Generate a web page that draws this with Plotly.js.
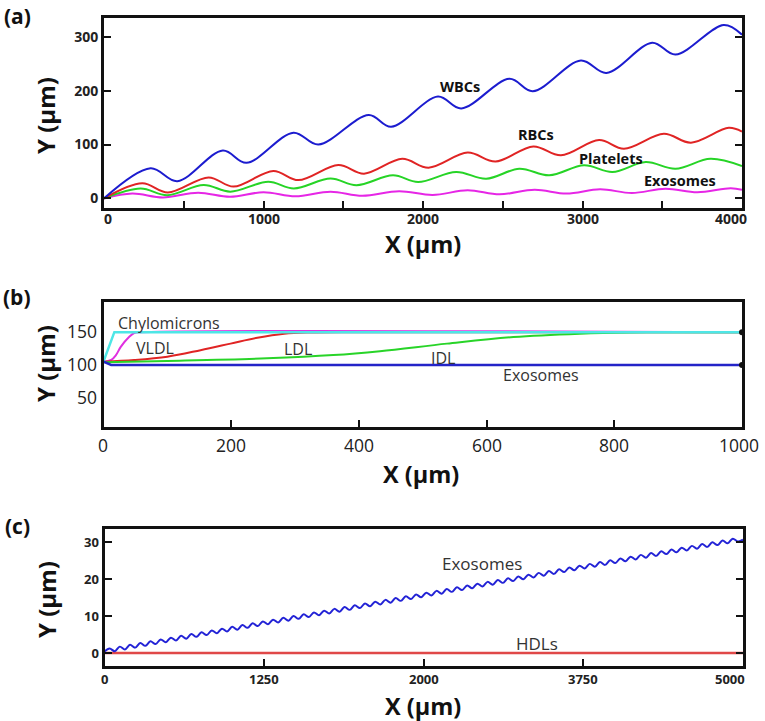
<!DOCTYPE html>
<html><head><meta charset="utf-8">
<script src="https://cdn.plot.ly/plotly-3.0.1.min.js"></script>
<style>html,body{margin:0;padding:0;background:#fff;}#chart{width:765px;height:721px;}</style>
</head><body><div id="chart"></div>
<script>
// ---------- Panel (a) ----------
const wbcX = [0, 292, 460, 745, 893, 1188, 1344, 1660, 1800, 2094, 2240, 2542, 2688, 2990, 3150, 3437, 3583, 3886, 4000];
const wbcY = [0, 56, 32, 89, 66, 122, 100, 155, 133, 189, 167, 222, 199, 256, 233, 289, 267, 322, 304];
const rbcX = [0, 240, 400, 656, 812, 1062, 1219, 1469, 1630, 1870, 2035, 2280, 2455, 2692, 2865, 3104, 3260, 3510, 3680, 3917, 4000];
const rbcY = [0, 28, 11, 39, 22, 51, 34, 62, 46, 73.5, 57, 85, 68.5, 96.5, 80, 108.5, 92.3, 120, 103.5, 131, 124];
const pltX = [0, 229, 396, 625, 792, 1030, 1190, 1420, 1583, 1812, 1969, 2208, 2396, 2604, 2792, 3010, 3188, 3396, 3583, 3802, 4000];
const pltY = [0, 18.5, 6, 25, 12.5, 31, 18.5, 37, 24.5, 43, 30.5, 49, 36.6, 55, 42.8, 61.5, 49, 67.5, 55, 73.4, 60];
const exoAX = [0, 177, 370, 590, 790, 1000, 1200, 1420, 1620, 1850, 2060, 2280, 2480, 2700, 2900, 3110, 3310, 3520, 3720, 3930, 4000];
const exoAY = [0, 9, 1.8, 10.5, 3, 11.5, 4, 12.5, 5, 13.5, 6.5, 15, 7.5, 16, 9, 17, 10, 18, 11.5, 19, 16];
const aXTicks = [0, 500, 1000, 1500, 2000, 2500, 3000, 3500, 4000];
const aXLabelVals = [0, 1000, 2000, 3000, 4000];
const aXLabels = ['0', '1000', '2000', '3000', '4000'];
const aYTicks = [0, 100, 200, 300];

// ---------- Panel (b) ----------
const chyloX = [0, 17, 1000];
const chyloY = [105, 150, 150];
const vldlX = [0, 12, 19.5, 27, 40, 48, 60, 1000];
const vldlY = [105, 107.5, 115, 127.5, 142.5, 148.5, 150, 150];
const ldlX = [0, 48, 100, 152, 199, 241, 283, 324, 400, 1000];
const ldlY = [105, 107.5, 112.5, 122.5, 132.5, 141.5, 147.6, 149.5, 150, 150];
const idlX = [0, 100, 256, 360, 433, 538, 642, 746, 824, 900, 1000];
const idlY = [104, 106, 110, 115, 121, 132.5, 142.5, 147.6, 149.5, 150, 150];
const exoBX = [0, 12, 1000];
const exoBY = [105, 100, 100];
const endX = [1000, 1000];
const endY = [150, 100];
const bXTicks = [200, 400, 600, 800];
const bXLabelVals = [0, 200, 400, 600, 800, 1000];
const bXLabels = ['0', '200', '400', '600', '800', '1000'];
const bYTicks = [50, 100, 150];

// ---------- Panel (c) ----------
const exoCX = [0,40,80,120,160,200,240,280,320,360,400,440,480,520,560,600,640,680,720,760,800,840,880,920,960,1000,1040,1080,1120,1160,1200,1240,1280,1320,1360,1400,1440,1480,1520,1560,1600,1640,1680,1720,1760,1800,1840,1880,1920,1960,2000,2040,2080,2120,2160,2200,2240,2280,2320,2360,2400,2440,2480,2520,2560,2600,2640,2680,2720,2760,2800,2840,2880,2920,2960,3000,3040,3080,3120,3160,3200,3240,3280,3320,3360,3400,3440,3480,3520,3560,3600,3640,3680,3720,3760,3800,3840,3880,3920,3960,4000,4040,4080,4120,4160,4200,4240,4280,4320,4360,4400,4440,4480,4520,4560,4600,4640,4680,4720,4760,4800,4840,4880,4920,4960,5000];
const exoCY = [0.4,1.24,0.48,1.73,0.97,2.21,1.46,2.70,1.94,3.18,2.43,3.67,2.91,4.16,3.40,4.64,3.89,5.13,4.37,5.61,4.86,6.10,5.34,6.59,5.83,7.07,6.32,7.56,6.80,8.04,7.29,8.53,7.77,9.02,8.26,9.50,8.75,9.99,9.23,10.47,9.72,10.96,10.20,11.45,10.69,11.93,11.18,12.42,11.66,12.90,12.15,13.39,12.63,13.88,13.12,14.36,13.61,14.85,14.09,15.33,14.58,15.82,15.06,16.31,15.55,16.79,16.04,17.28,16.52,17.76,17.01,18.25,17.49,18.74,17.98,19.22,18.47,19.71,18.95,20.19,19.44,20.68,19.92,21.17,20.41,21.65,20.90,22.14,21.38,22.62,21.87,23.11,22.35,23.60,22.84,24.08,23.33,24.57,23.81,25.05,24.30,25.54,24.78,26.03,25.27,26.51,25.76,27.00,26.24,27.48,26.73,27.97,27.21,28.46,27.70,28.94,28.19,29.43,28.67,29.91,29.16,30.40,29.64,30.89,30.13,30.6];
const hdlX = [0, 5000];
const hdlY = [0, 0];
const cXTicks = [1250, 2500, 3750];
const cXLabelVals = [0, 1250, 2500, 3750, 5000];
const cXLabels = ['0', '1250', '2000', '3750', '5000'];
const cYTicks = [0, 10, 20, 30];

// ---------- helpers (layout only) ----------
const W = 765, H = 721;
const px = v => v / W;
const py = v => 1 - v / H;
const FONT = 'Open Sans';

function line(x, y, color, width, xa, ya, shape) {
  return {x: x, y: y, mode: 'lines', type: 'scatter', xaxis: xa, yaxis: ya,
          line: {color: color, width: width, shape: shape || 'spline', smoothing: 1},
          hoverinfo: 'skip', showlegend: false};
}

const traces = [
  line(exoAX, exoAY, '#e626e6', 2, 'x', 'y'),
  line(pltX, pltY, '#26d426', 2, 'x', 'y'),
  line(rbcX, rbcY, '#e02424', 2, 'x', 'y'),
  line(wbcX, wbcY, '#1c1ccf', 2, 'x', 'y'),

  line(vldlX, vldlY, '#e030e0', 2, 'x2', 'y2'),
  line(ldlX, ldlY, '#e02424', 2, 'x2', 'y2'),
  line(idlX, idlY, '#28d428', 2, 'x2', 'y2'),
  line(chyloX, chyloY, '#4ee6e6', 2.5, 'x2', 'y2', 'linear'),
  line(exoBX, exoBY, '#2424c8', 2.5, 'x2', 'y2', 'linear'),
  {x: endX, y: endY, mode: 'markers', type: 'scatter', xaxis: 'x2', yaxis: 'y2',
   marker: {color: '#111', size: 6}, cliponaxis: false, hoverinfo: 'skip', showlegend: false},

  line(hdlX, hdlY, '#e04848', 2.5, 'x3', 'y3', 'linear'),
  line(exoCX, exoCY, '#2323d6', 2, 'x3', 'y3')
];

const axBase = {showline: true, linecolor: '#111', linewidth: 3, mirror: true,
                showgrid: false, zeroline: false, ticks: 'inside', tickcolor: '#111',
                ticklen: 7, tickwidth: 2, fixedrange: true};

const boldTick = s => ({family: FONT, size: s, color: '#222', weight: 700});
const regTick = s => ({family: FONT, size: s, color: '#222', weight: 400});

const layout = {
  width: W, height: H,
  margin: {l: 0, r: 0, t: 0, b: 0},
  paper_bgcolor: '#fff', plot_bgcolor: '#fff',
  showlegend: false,
  xaxis: Object.assign({}, axBase, {domain: [px(104), px(742)], anchor: 'y', range: [0, 4000],
    tickmode: 'array', tickvals: aXTicks, showticklabels: false}),
  yaxis: Object.assign({}, axBase, {domain: [py(208), py(18)], anchor: 'x', range: [-17.8, 334.9],
    mirror: 'ticks', tickmode: 'array', tickvals: aYTicks, tickfont: boldTick(14)}),

  xaxis2: Object.assign({}, axBase, {domain: [px(103.5), px(742)], anchor: 'y2', range: [0, 1000],
    tickmode: 'array', tickvals: bXTicks, showticklabels: false}),
  yaxis2: Object.assign({}, axBase, {domain: [py(426.5), py(302)], anchor: 'x2', range: [5.9, 196.1],
    ticks: '', tickmode: 'array', tickvals: bYTicks, tickfont: regTick(17.5)}),

  xaxis3: Object.assign({}, axBase, {domain: [px(104.5), px(743)], anchor: 'y3', range: [0, 5000],
    tickmode: 'array', tickvals: cXTicks, showticklabels: false}),
  yaxis3: Object.assign({}, axBase, {domain: [py(666), py(529)], anchor: 'x3', range: [-3.5, 33.5],
    mirror: 'ticks', tickmode: 'array', tickvals: cYTicks, tickfont: boldTick(13)}),

  annotations: []
};

function note(text, x, y, size, weight, color, angle) {
  layout.annotations.push({text: text, xref: 'paper', yref: 'paper', x: px(x), y: py(y),
    xanchor: 'center', yanchor: 'middle', showarrow: false, textangle: angle || 0,
    font: {family: FONT, size: size, color: color || '#111', weight: weight}});
}
function dnote(text, x, y, xr, yr, size, weight, color) {
  layout.annotations.push({text: text, xref: xr, yref: yr, x: x, y: y,
    xanchor: 'center', yanchor: 'middle', showarrow: false,
    font: {family: FONT, size: size, color: color || '#111', weight: weight}});
}
// x-axis tick labels placed on the axis scale (x in data units)
function xLabels(vals, texts, xr, yPix, size, weight, firstShift, lastShift) {
  vals.forEach((v, i) => {
    let shift = 0;
    if (i === 0) shift = firstShift;
    if (i === vals.length - 1) shift = lastShift;
    layout.annotations.push({text: texts[i], xref: xr, yref: 'paper', x: v, y: py(yPix),
      xanchor: 'center', yanchor: 'middle', showarrow: false, xshift: shift,
      font: {family: FONT, size: size, color: '#222', weight: weight}});
  });
}
xLabels(aXLabelVals, aXLabels, 'x', 219, 14, 700, 4, -11);
xLabels(bXLabelVals, bXLabels, 'x2', 445, 17.5, 400, -1, -3);
xLabels(cXLabelVals, cXLabels, 'x3', 679, 13, 700, 0, -13);

// panel letters
note('(a)', 17, 16, 21, 700);
note('(b)', 17, 297, 21, 700);
note('(c)', 17, 526, 21, 700);
// axis titles
note('X (µm)', 423, 244, 23.5, 700);
note('Y (µm)', 45, 116, 24, 700, '#111', -90);
note('X (µm)', 421, 474, 23.5, 700);
note('Y (µm)', 45, 364, 24, 700, '#111', -90);
note('X (µm)', 423, 706, 23.5, 700);
note('Y (µm)', 46, 600, 24, 700, '#111', -90);

// curve labels (a)
dnote('WBCs', 2229, 208, 'x', 'y', 14.5, 700);
dnote('RBCs', 2711, 118, 'x', 'y', 14.5, 700);
dnote('Platelets', 3179, 74, 'x', 'y', 14.5, 700);
dnote('Exosomes', 3611, 33.6, 'x', 'y', 14.5, 700);
// curve labels (b)
dnote('Chylomicrons', 102, 164.6, 'x2', 'y2', 16, 400, '#333');
dnote('VLDL', 80, 125.5, 'x2', 'y2', 16, 400, '#333');
dnote('LDL', 304, 124, 'x2', 'y2', 16, 400, '#333');
dnote('IDL', 532, 110.5, 'x2', 'y2', 16, 400, '#333');
dnote('Exosomes', 685, 85, 'x2', 'y2', 16, 400, '#333');
// curve labels (c)
dnote('Exosomes', 2953, 24.2, 'x3', 'y3', 17, 400, '#333');
dnote('HDLs', 3383, 2.65, 'x3', 'y3', 17, 400, '#333');

Plotly.newPlot('chart', traces, layout, {staticPlot: true, displayModeBar: false});
</script>
</body></html>
